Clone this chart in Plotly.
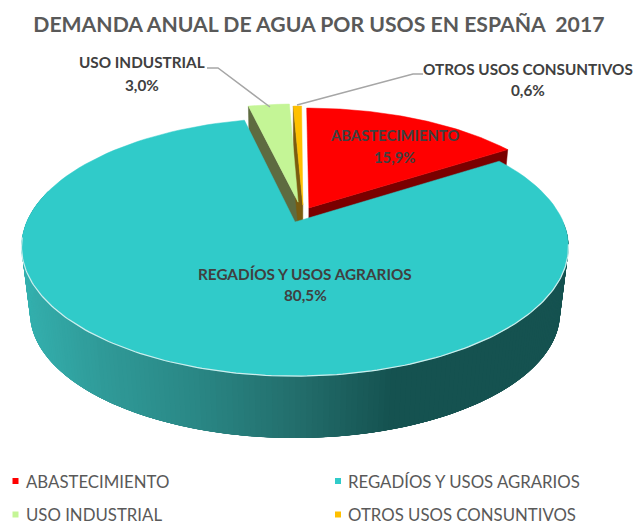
import numpy as np
import plotly.graph_objects as go

# ---- data -------------------------------------------------------------
categories = ["ABASTECIMIENTO", "REGADÍOS Y USOS AGRARIOS", "USO INDUSTRIAL", "OTROS USOS CONSUNTIVOS"]
values = [15.9, 80.5, 3.0, 0.6]
value_labels = ["15,9%", "80,5%", "3,0%", "0,6%"]
title_text = "DEMANDA ANUAL DE AGUA POR USOS EN ESPAÑA  2017"

# ---- style ------------------------------------------------------------
top_colors = ["#ff0000", "#30cbc9", "#c4f596", "#ffc000"]
wall_colors = ["#7a0000", None, "#5e6b40", "#7a5c10"]
explode = [(0.053, 0.116), (0.0, 0.0), (0.012, 0.165), (0.03, 0.14)]
GREY = "#595959"
DARK = "#404040"
FONT = "Lato"

# perspective disc: upper and lower faces of the cylinder
K = 0.194
UP = dict(x0=295.0, y0=222.0, a=268.3, b=124.2)
LOW = dict(x0=295.0, y0=288.5, a=260.0, b=120.5)


def project(X, Y, face):
    w = 1 + K * Y
    return face["x0"] + face["a"] * X / w, face["y0"] - face["b"] * Y / w


def wedge(start, end, off, face, n=120):
    t = np.radians(np.linspace(start, end, n))
    X = np.concatenate([[0], np.sin(t), [0]]) + off[0]
    Y = np.concatenate([[0], np.cos(t), [0]]) + off[1]
    return project(X, Y, face)


def poly(x, y, color, lw=0.0, line=None):
    return go.Scatter(x=list(x), y=list(y), mode="lines", fill="toself", fillcolor=color,
                      line=dict(color=line or color, width=lw), hoverinfo="skip", showlegend=False)


def wall_color(x):
    stops_x = [22, 100, 200, 300, 398, 570]
    r = [52, 48, 42, 35, 21, 21]
    g = [176, 155, 135, 110, 82, 82]
    b = [174, 153, 133, 108, 80, 80]
    return "rgb(%d,%d,%d)" % (np.interp(x, stops_x, r), np.interp(x, stops_x, g), np.interp(x, stops_x, b))


cum = np.concatenate([[0], np.cumsum(values)]) / sum(values) * 360.0
fig = go.Figure()

# curved outer wall of the largest slice: overlapping shaded bands, each one
# painted over the start of the previous so that no seams show
edges = np.linspace(90, 285, 196)
for a1 in edges[:-1]:
    t = np.radians(np.linspace(a1, min(a1 + 6, 285), 8))
    ux, uy = project(np.sin(t), np.cos(t), UP)
    lx, ly = project(np.sin(t), np.cos(t), LOW)
    fig.add_trace(poly(np.concatenate([ux, lx[::-1], ux[:1]]), np.concatenate([uy, ly[::-1], uy[:1]]),
                       wall_color(ux[0]), lw=0))

# cut faces of the small exploded slices
for i in (0, 2, 3):
    ang = np.radians(cum[i + 1] if i == 0 else cum[i])
    X = np.array([0, np.sin(ang)]) + explode[i][0]
    Y = np.array([0, np.cos(ang)]) + explode[i][1]
    ux, uy = project(X, Y, UP)
    lx, ly = project(X, Y, LOW)
    fig.add_trace(poly([ux[0], ux[1], lx[1], lx[0], ux[0]], [uy[0], uy[1], ly[1], ly[0], uy[0]], wall_colors[i], lw=0.5))

# top faces
for i in (0, 2, 3, 1):
    x, y = wedge(cum[i], cum[i + 1], explode[i], UP)
    fig.add_trace(poly(x, y, top_colors[i], lw=0.5))

# pale rim between top face and wall
t = np.radians(np.linspace(100, 263, 160))
rx, ry = project(np.sin(t), np.cos(t), UP)
fig.add_trace(go.Scatter(x=rx, y=ry, mode="lines", line=dict(color="#cdeeed", width=1.2),
                         hoverinfo="skip", showlegend=False))

# leader lines
for lx, ly in (([207, 218, 270], [68, 68, 107]), ([423, 413, 297], [74, 74, 105])):
    fig.add_trace(go.Scatter(x=lx, y=ly, mode="lines", line=dict(color="#a6a6a6", width=1.4),
                             hoverinfo="skip", showlegend=False))


def label(text, x, y, size=15.3, color=DARK, bold=True, anchor="center"):
    txt = "<b>%s</b>" % text if bold else text
    fig.add_annotation(x=x, y=y, xref="x", yref="y", text=txt, showarrow=False, xanchor=anchor,
                       yanchor="middle", font=dict(family=FONT, size=size, color=color))


label(categories[0], 394, 135, size=14.8)
label(value_labels[0], 394, 157, size=14.8)
label(categories[1], 305, 274)
label(value_labels[1], 305, 295)
label(categories[2], 142, 62)
label(value_labels[2], 142, 85)
label(categories[3], 528, 69)
label(value_labels[3], 528, 90)

# legend
legend_pos = [(15.5, 481), (338, 481), (15.5, 514.5), (338, 514.5)]
for (lx, ly), name, col in zip(legend_pos, categories, top_colors):
    fig.add_shape(type="rect", x0=lx - 3, x1=lx + 3, y0=ly - 3, y1=ly + 3, xref="x", yref="y",
                  fillcolor=col, line_width=0)
    label(name, lx + 8, ly, size=16.8, color=GREY, bold=False, anchor="left")

fig.update_layout(
    width=634, height=526, margin=dict(l=0, r=0, t=0, b=0),
    paper_bgcolor="white", plot_bgcolor="white", showlegend=False,
    title=dict(text="<b>%s</b>" % title_text, x=0.503, xanchor="center", y=1 - 25 / 526, yanchor="middle",
               font=dict(family=FONT, size=21.2, color=GREY)),
    xaxis=dict(range=[0, 634], visible=False, fixedrange=True),
    yaxis=dict(range=[526, 0], visible=False, fixedrange=True),
)
fig.write_html("out.html", config={"displayModeBar": False},
               post_script="document.body.style.margin='0';")
